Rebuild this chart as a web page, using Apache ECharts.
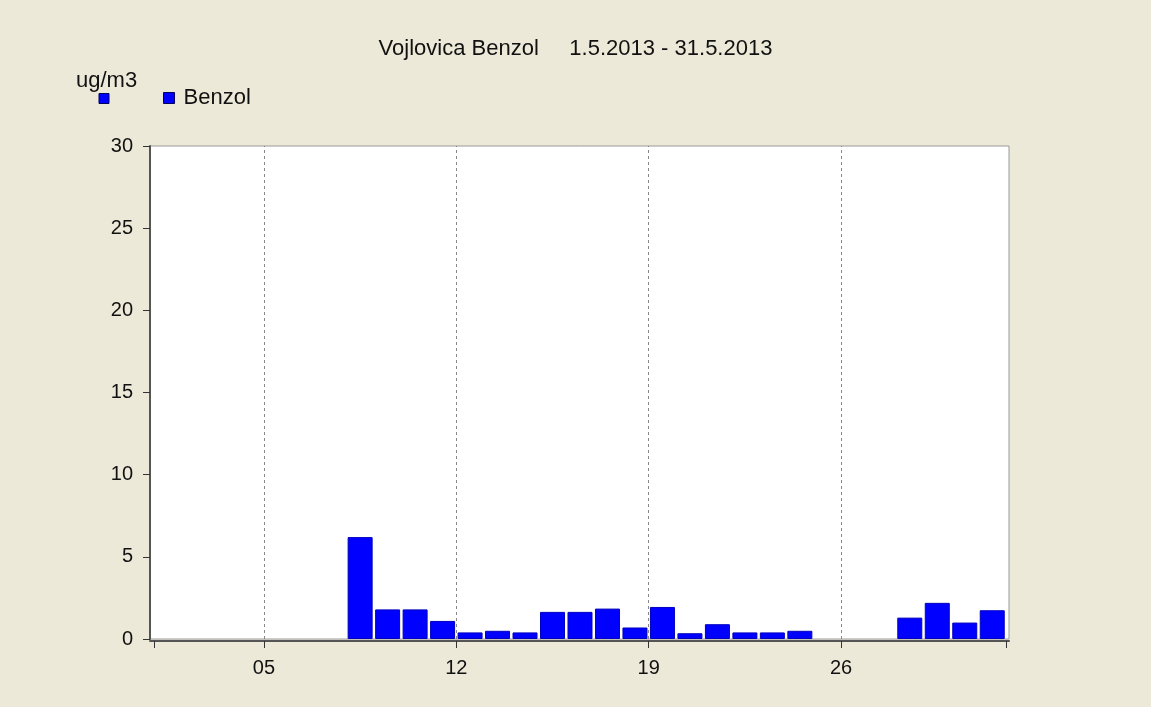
<!DOCTYPE html>
<html>
<head>
<meta charset="utf-8">
<script src="https://cdn.jsdelivr.net/npm/echarts@6/dist/echarts.min.js"></script>
<style>
html,body{margin:0;padding:0;background:#ECE9D8;}
#chart{width:1151px;height:707px;}
</style>
</head>
<body>
<div id="chart"></div>
<script>
// Data
const titleText = 'Vojlovica Benzol     1.5.2013 - 31.5.2013';
const unitText = 'ug/m3';
const seriesName = 'Benzol';
const days = [8, 9, 10, 11, 12, 13, 14, 15, 16, 17, 18, 19, 20, 21, 22, 23, 24, 28, 29, 30, 31];
const values = [6.2, 1.8, 1.8, 1.1, 0.4, 0.5, 0.4, 1.65, 1.65, 1.85, 0.7, 1.95, 0.35, 0.9, 0.4, 0.4, 0.5, 1.3, 2.2, 1.0, 1.75];
const xTickValues = [1, 5, 12, 19, 26, 32];
const xLabelValues = [5, 12, 19, 26];
const yTicks = [0, 5, 10, 15, 20, 25, 30];

const chart = echarts.init(document.getElementById('chart'));
const font = 'Liberation Sans, Arial, sans-serif';
const barData = days.map((d, i) => [d + 0.5, values[i]]);

chart.setOption({
  backgroundColor: '#ECE9D8',
  animation: false,
  title: {
    text: titleText,
    left: 'center',
    top: 33,
    textStyle: { fontFamily: font, fontSize: 22, fontWeight: 'normal', color: '#111' }
  },
  legend: {
    data: [seriesName],
    left: 163,
    top: 87,
    padding: 0,
    icon: 'rect',
    itemWidth: 11,
    itemHeight: 11,
    itemStyle: { color: '#0000ff', borderColor: '#000060', borderWidth: 1 },
    textStyle: { fontFamily: font, fontSize: 22, color: '#111', padding: [0, 0, 0, 4] }
  },
  graphic: [
    { type: 'text', left: 76, top: 70, style: { text: unitText, font: '22px ' + font, fill: '#111' } },
    { type: 'rect', shape: { x: 99, y: 93.5, width: 10, height: 10 }, style: { fill: '#0000ff', stroke: '#000060', lineWidth: 1 } }
  ],
  grid: {
    left: 150, top: 146, width: 859, height: 493,
    show: true, backgroundColor: '#ffffff', borderColor: '#9a9a9a', borderWidth: 1
  },
  xAxis: {
    type: 'value',
    min: 0.854,
    max: 32.11,
    offset: 2,
    axisLine: { show: true, onZero: false, lineStyle: { color: '#555', width: 2 } },
    axisTick: { show: true, length: 7, customValues: xTickValues, lineStyle: { color: '#333', width: 1 } },
    axisLabel: {
      customValues: xLabelValues,
      margin: 17,
      fontFamily: font, fontSize: 20, color: '#111',
      formatter: v => String(v).padStart(2, '0')
    },
    splitLine: { show: false }
  },
  yAxis: {
    type: 'value',
    min: 0, max: 30, interval: 5,
    axisLine: { show: true, lineStyle: { color: '#555', width: 2 } },
    axisTick: { show: true, length: 7, lineStyle: { color: '#333' } },
    axisLabel: { margin: 17, fontFamily: font, fontSize: 20, color: '#111' },
    splitLine: { show: false }
  },
  series: [{
    name: seriesName,
    type: 'bar',
    data: barData,
    barWidth: 25,
    itemStyle: { color: '#0000ff', borderColor: '#0000c0', borderWidth: 1 },
    markLine: {
      silent: true,
      symbol: 'none',
      label: { show: false },
      lineStyle: { color: '#888', type: [3, 3], width: 1 },
      data: xLabelValues.map(v => ({ xAxis: v }))
    }
  }]
});
</script>
</body>
</html>
